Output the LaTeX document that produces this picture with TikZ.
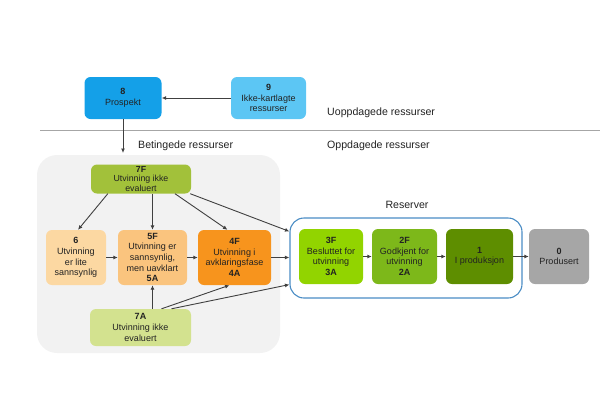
\documentclass[tikz,border=0pt]{standalone}
\usepackage{fontspec}
\setmainfont{Liberation Sans}
\usetikzlibrary{arrows.meta,calc}
\definecolor{cEight}{HTML}{14A0E8}
\definecolor{cNine}{HTML}{5CC6F4}
\definecolor{cSevenF}{HTML}{A2C13A}
\definecolor{cSix}{HTML}{FCD8A2}
\definecolor{cFive}{HTML}{FAC47E}
\definecolor{cFour}{HTML}{F7941D}
\definecolor{cSevenA}{HTML}{D3E28F}
\definecolor{cThree}{HTML}{92D400}
\definecolor{cTwo}{HTML}{7DB81A}
\definecolor{cOne}{HTML}{5E8E00}
\definecolor{cZero}{HTML}{A6A6A6}
\definecolor{cRes}{HTML}{4A8CC4}
\definecolor{cBg}{HTML}{F2F2F2}
\definecolor{cArr}{HTML}{404040}
\definecolor{cTxt}{HTML}{222222}
\tikzset{
  box/.style={rounded corners=6pt, draw=none, align=center, inner sep=1pt,
    font=\fontsize{9}{10.6}\selectfont, text=cTxt},
  lbl/.style={font=\fontsize{10.6}{13}\selectfont, text=cTxt, inner sep=0pt},
  arr/.style={draw=cArr, line width=0.9pt, -{Latex[length=4.5pt,width=4pt]}},
}
\begin{document}
\begin{tikzpicture}[x=1pt,y=-1pt]
\useasboundingbox (0,0) rectangle (615,405);
% background areas
\fill[cBg, rounded corners=20pt] (37,155) rectangle (280,353);
\draw[gray!70, line width=1pt] (40,130) -- (600,130);
\node[draw=cRes, line width=1.1pt, rounded corners=14pt, minimum width=232pt, minimum height=80pt, inner sep=0pt] (res) at (406,258) {};
% labels
\node[lbl, anchor=west] (uopp) at (327,113) {Uoppdagede ressurser};
\node[lbl, anchor=west] (opp) at (327,146) {Oppdagede ressurser};
\node[lbl, anchor=west] (bet) at (138,146) {Betingede ressurser};
\node[lbl] (resl) at (407,205) {Reserver};
% nodes
\node[box, fill=cEight, minimum width=77pt, minimum height=42pt] (n8) at (123,98) {\textbf{8}\\Prospekt};
\node[box, fill=cNine, minimum width=75pt, minimum height=42pt] (n9) at (268.5,98) {\textbf{9}\\Ikke-kartlagte\\ressurser};
\node[box, fill=cSevenF, minimum width=100pt, minimum height=29pt, font=\fontsize{8.8}{9.6}\selectfont] (n7F) at (141,179) {\textbf{7F}\\Utvinning ikke\\evaluert};
\node[box, fill=cSix, minimum width=60pt, minimum height=55pt] (n6) at (76,257.5) {\textbf{6}\\Utvinning\\er lite\\sannsynlig};
\node[box, fill=cFive, minimum width=69pt, minimum height=55pt] (n5) at (152.5,257.5) {\textbf{5F}\\Utvinning er\\sannsynlig,\\men uavklart\\\textbf{5A}};
\node[box, fill=cFour, minimum width=73pt, minimum height=55pt] (n4) at (234.5,257.5) {\textbf{4F}\\Utvinning i\\avklaringsfase\\\textbf{4A}};
\node[box, fill=cSevenA, minimum width=101pt, minimum height=37pt] (n7A) at (140.5,327.5) {\textbf{7A}\\Utvinning ikke\\evaluert};
\node[box, fill=cThree, minimum width=64pt, minimum height=55pt] (n3) at (331,256.5) {\textbf{3F}\\Besluttet for\\utvinning\\\textbf{3A}};
\node[box, fill=cTwo, minimum width=65pt, minimum height=55pt] (n2) at (404.5,256.5) {\textbf{2F}\\Godkjent for\\utvinning\\\textbf{2A}};
\node[box, fill=cOne, minimum width=67pt, minimum height=55pt] (n1) at (479.5,256.5) {\textbf{1}\\I produksjon};
\node[box, fill=cZero, minimum width=60pt, minimum height=55pt] (n0) at (559,256.5) {\textbf{0}\\Produsert};
\coordinate (down) at (123,153);
% connectors
\draw[arr] (n9.west) -- (n8.east);
\draw[arr] (n8.south) -- (down);
\draw[arr] ($(n7F.south west)+(17,0)$) -- ($(n6.north)+(2,0)$);
\draw[arr] (n5.north |- n7F.south) -- (n5.north);
\draw[arr] ($(n7F.south)+(34,0)$) -- ($(n4.north)+(-7,0)$);
\draw[arr] ($(n7F.south east)+(-1,0)$) -- ($(res.north west)+(0,14)$);
\draw[arr] (n6.east) -- (n5.west);
\draw[arr] (n5.east) -- (n4.west);
\draw[arr] (n4.east) -- (n4.east -| res.west);
\draw[arr] (n3.east) -- (n2.west);
\draw[arr] (n2.east) -- (n1.west);
\draw[arr] (n1.east) -- (n0.west);
\draw[arr] (n5.south |- n7A.north) -- (n5.south);
\draw[arr] ($(n7A.north)+(21,0)$) -- ($(n4.south)+(-5,0)$);
\draw[arr] ($(n7A.north)+(31,0)$) -- ($(res.south west)+(0,-14)$);
\end{tikzpicture}
\end{document}
